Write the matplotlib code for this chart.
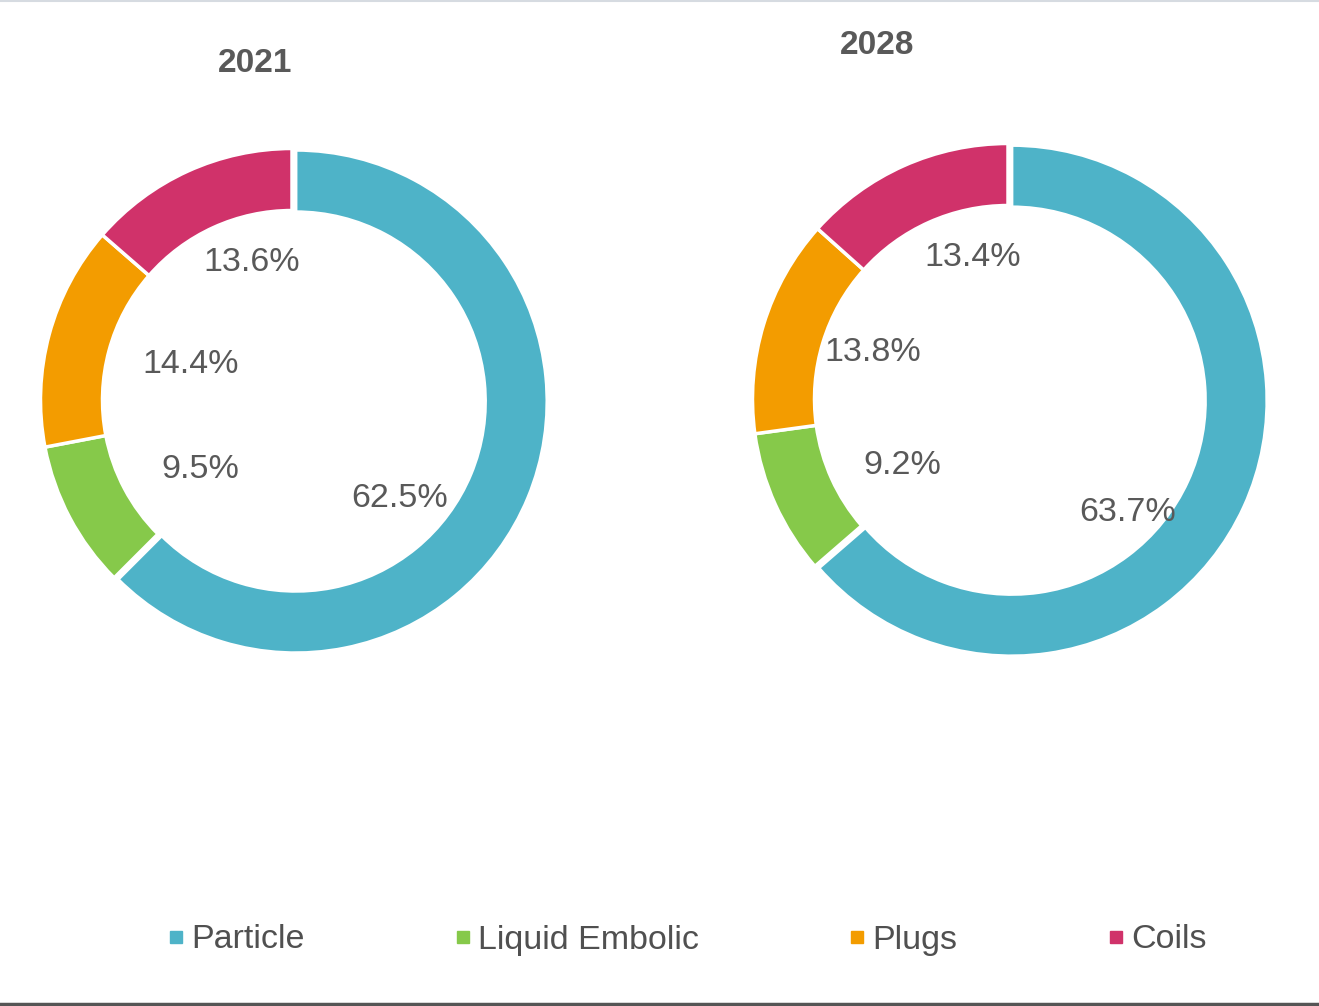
import numpy as np
import matplotlib
matplotlib.use("Agg")
import matplotlib.pyplot as plt
from matplotlib.lines import Line2D

plt.rcParams['font.family'] = ['Liberation Sans', 'DejaVu Sans']

# segment shares (%) per year
categories = ['Particle', 'Liquid Embolic', 'Plugs', 'Coils']
years = ['2021', '2028']
share_2021 = [62.5, 9.5, 14.4, 13.6]
share_2028 = [63.7, 9.2, 13.8, 13.4]

colors = ['#4eb3c8', '#86c94a', '#f39c00', '#d0326a']
text_color = '#595959'

W, H = 1319, 1006
fig = plt.figure(figsize=(W / 100, H / 100), dpi=100)
ax = fig.add_axes([0, 0, 1, 1])

# pie layout in pixel units (y up)
pie_centers = [(292, 606), (1008, 607)]
pie_radius = [251.5, 255.5]
title_pos = [(255, 943), (877, 961)]
# label placement: (distance from centre, angle shift from wedge bisector)
label_layout = [
    [(146, -20), (115, 9), (107, -4), (143, -8)],
    [(165, -19), (125, 8), (143, -2), (146, -10)],
]

for year, shares, (cx, cy), R, tpos, layout in zip(
        years, [share_2021, share_2028], pie_centers, pie_radius, title_pos, label_layout):
    wedges, _ = ax.pie(shares, colors=colors, startangle=90, counterclock=False,
                       radius=R, center=(cx, cy), explode=[4, 0, 0, 0],
                       wedgeprops=dict(width=62, edgecolor='white', linewidth=2.5))
    for w, val, (r, shift) in zip(wedges, shares, layout):
        mid = np.deg2rad((w.theta1 + w.theta2) / 2 + shift)
        ax.text(cx + r * np.cos(mid), cy + r * np.sin(mid), f'{val}%',
                ha='center', va='center', fontsize=24.5, color=text_color)
    ax.text(tpos[0], tpos[1], year, ha='center', va='center',
            fontsize=24, fontweight='bold', color=text_color)

ax.set_xlim(0, W)
ax.set_ylim(0, H)
ax.set_aspect('equal')
ax.axis('off')

handles = [Line2D([], [], marker='s', linestyle='none', markersize=9,
                  markerfacecolor=c, markeredgecolor=c) for c in colors]
leg = ax.legend(handles, categories, loc='center', bbox_to_anchor=(687, 66),
                bbox_transform=ax.transData, ncol=4, frameon=False,
                fontsize=24.5, handlelength=0.5, handletextpad=0.2,
                columnspacing=4.4, borderpad=0)
for t in leg.get_texts():
    t.set_color('#505050')

# thin frame lines at top and bottom edges
fig.add_artist(Line2D([0, 1], [1 - 1 / H, 1 - 1 / H], transform=fig.transFigure,
                      color='#d6dbe1', linewidth=1.5))
fig.add_artist(Line2D([0, 1], [2 / H, 2 / H], transform=fig.transFigure,
                      color='#555555', linewidth=2.5))

fig.savefig('out.png', dpi=100)
